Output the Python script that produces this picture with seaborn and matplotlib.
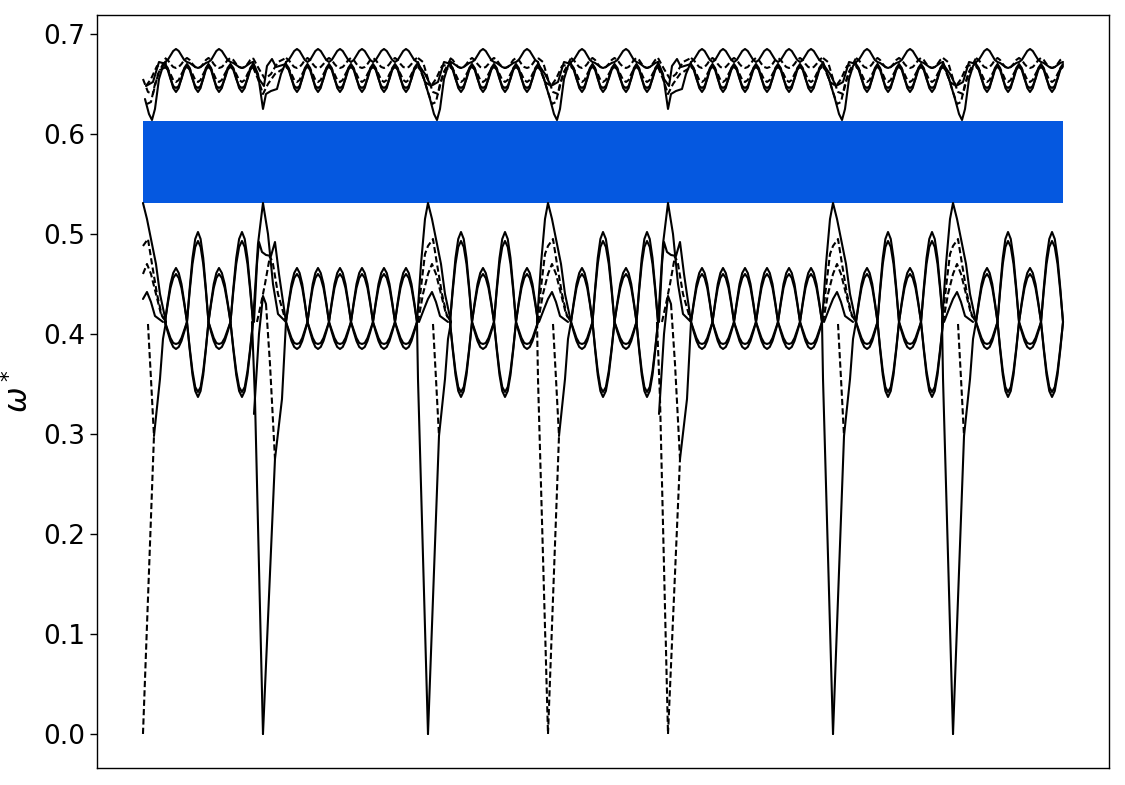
import matplotlib
matplotlib.use("Agg")
import matplotlib.pyplot as plt
import pandas as pd
import seaborn as sns

# path coordinate along the wave-vector path (no tick labels in the figure)
VERTEX_K = [0, 120, 285, 405, 525, 690, 810, 920]
VERTEX_KIND = ['A', 'B', 'A', 'A', 'B', 'A', 'A']
VERTEX_V_STYLE = ['dashed', 'solid', 'solid', 'dashed', 'dashed', 'solid', 'solid']

# band gap
GAP_LOW = 0.531
GAP_HIGH = 0.613

# centres of the lens shaped crossings between the vertices (s = small, b = big)
EYE_CENTERS = [
    [33, 55, 76, 99],
    [154, 175, 197, 219, 241, 263],
    [318, 340, 362, 384],
    [439, 460, 483, 504],
    [559, 580, 602, 624, 646, 668],
    [724, 745, 767, 789],
    [844, 865, 887, 909],
]
EYE_KINDS = ['sbsb', 'ssssss', 'bsbs', 'sbsb', 'ssssss', 'sbsb', 'sbsb']

# read heights from crossing (first) to lens centre (last)
LOW_TOP = {'s': [0.412, 0.432, 0.450, 0.461, 0.466], 'b': [0.412, 0.446, 0.476, 0.495, 0.502]}
LOW_TOP2 = {'s': [0.412, 0.430, 0.446, 0.456, 0.460], 'b': [0.412, 0.443, 0.470, 0.487, 0.493]}
LOW_BOT = {'s': [0.412, 0.402, 0.393, 0.387, 0.385], 'b': [0.412, 0.384, 0.359, 0.343, 0.337]}
LOW_BOT2 = {'s': [0.412, 0.404, 0.396, 0.391, 0.390], 'b': [0.412, 0.386, 0.363, 0.347, 0.342]}
UP_TOP = {'s': [0.672, 0.674, 0.6785, 0.683, 0.685], 'b': [0.672, 0.671, 0.669, 0.667, 0.666]}
UP_MID = {'s': [0.670, 0.666, 0.656, 0.646, 0.642], 'b': [0.670, 0.666, 0.656, 0.646, 0.642]}
UP_MID2 = {'s': [0.668, 0.664, 0.655, 0.648, 0.646], 'b': [0.668, 0.664, 0.655, 0.648, 0.646]}
UP_DASH = {'s': [0.667, 0.665, 0.660, 0.654, 0.652], 'b': [0.667, 0.665, 0.660, 0.654, 0.652]}
UP_DASH2 = {'s': [0.676, 0.674, 0.670, 0.667, 0.666], 'b': [0.676, 0.674, 0.670, 0.667, 0.666]}

BAND_CURVES = [
    (LOW_TOP, 'solid'), (LOW_TOP2, 'solid'), (LOW_BOT, 'solid'), (LOW_BOT2, 'solid'),
    (UP_TOP, 'solid'), (UP_MID, 'solid'), (UP_MID2, 'solid'),
    (UP_DASH, 'dashed'), (UP_DASH2, 'dashed'),
]

# curves around the high-symmetry points: offsets from the vertex, heights, style ('v' = vertex style)
LOWER_A = [
    ([-11, -7, -3, 0, 4, 9, 13, 17, 23], [0.412, 0.47, 0.515, 0.531, 0.515, 0.49, 0.47, 0.44, 0.412], 'solid'),
    ([-11, -6, -3, 0, 5, 9, 14, 19, 23], [0.412, 0.455, 0.48, 0.488, 0.495, 0.47, 0.44, 0.418, 0.412], 'dashed'),
    ([-10, -5, 0, 4, 8, 13, 18, 23], [0.412, 0.44, 0.46, 0.47, 0.46, 0.44, 0.42, 0.412], 'dashed'),
    ([-9, -4, 0, 4, 8, 12, 20], [0.412, 0.425, 0.435, 0.442, 0.432, 0.418, 0.412], 'solid'),
    ([-11, -10, 0], [0.412, 0.355, 0.0], 'v'),
    ([0, 11], [0.0, 0.298], 'v'),
    ([11, 17, 20, 23], [0.298, 0.355, 0.395, 0.412], 'solid'),
    ([5, 8, 11], [0.41, 0.355, 0.298], 'dashed'),
]
LOWER_B = [
    ([-10, -5, 0, 5, 10, 15, 23], [0.412, 0.49, 0.531, 0.50, 0.45, 0.42, 0.412], 'solid'),
    ([-9, -6, -4, -1, 3, 8, 12, 16, 23], [0.412, 0.47, 0.492, 0.482, 0.479, 0.478, 0.492, 0.46, 0.412], 'solid'),
    ([-6, -2, 2, 7, 10, 15, 23], [0.412, 0.43, 0.45, 0.478, 0.47, 0.44, 0.412], 'dashed'),
    ([-9, -4, 0, 3], [0.32, 0.40, 0.438, 0.43], 'solid'),
    ([3, 7, 12], [0.43, 0.37, 0.275], 'dashed'),
    ([-11, -8, 0], [0.412, 0.335, 0.0], 'v'),
    ([0, 12], [0.0, 0.275], 'v'),
    ([12, 19, 23], [0.275, 0.335, 0.412], 'solid'),
]
UPPER_A = [
    ([-10, -4, 2, 6, 9, 12, 16, 20, 23], [0.672, 0.655, 0.635, 0.620, 0.614, 0.625, 0.655, 0.668, 0.672], 'solid'),
    ([-10, -6, -1, 4, 8, 12, 17, 23], [0.667, 0.662, 0.645, 0.630, 0.632, 0.650, 0.664, 0.667], 'dashed'),
    ([-10, -5, 0, 5, 10, 15, 23], [0.676, 0.672, 0.655, 0.642, 0.640, 0.660, 0.676], 'dashed'),
    ([-10, -3, 3, 8, 14, 23], [0.670, 0.652, 0.648, 0.655, 0.668, 0.670], 'dashed'),
    ([-10, -3, 3, 10, 16, 23], [0.670, 0.660, 0.648, 0.652, 0.672, 0.670], 'solid'),
]
UPPER_B = [
    ([-10, -5, 0, 3, 8, 14, 18, 23], [0.672, 0.660, 0.625, 0.640, 0.643, 0.645, 0.660, 0.672], 'solid'),
    ([-10, -4, 1, 4, 9, 13, 23], [0.670, 0.655, 0.648, 0.668, 0.675, 0.667, 0.670], 'solid'),
    ([-10, -5, 0, 5, 12, 23], [0.667, 0.655, 0.640, 0.650, 0.660, 0.667], 'dashed'),
    ([-10, -4, 2, 8, 15, 23], [0.676, 0.665, 0.655, 0.660, 0.672, 0.676], 'dashed'),
]
TEMPLATES = {'A': LOWER_A + UPPER_A, 'B': LOWER_B + UPPER_B}

Y_TICKS = [0.0, 0.1, 0.2, 0.3, 0.4, 0.5, 0.6, 0.7]


def lens_run(centres, kinds, profile):
    ks, ws = [], []
    for i, (c, kd) in enumerate(zip(centres, kinds)):
        left = c - 11 if i == 0 else (centres[i - 1] + c) / 2
        right = c + 11 if i == len(centres) - 1 else (c + centres[i + 1]) / 2
        prof = profile[kd]
        for j in range(4):
            ks.append(left + (c - left) * j / 4)
            ws.append(prof[j])
        ks.append(c)
        ws.append(prof[4])
        for j in range(3, 0, -1):
            ks.append(c + (right - c) * (4 - j) / 4)
            ws.append(prof[j])
    ks.append(right)
    ws.append(profile[kinds[-1]][0])
    return ks, ws


rows = []
piece = 0
for centres, kinds in zip(EYE_CENTERS, EYE_KINDS):
    for profile, style in BAND_CURVES:
        ks, ws = lens_run(centres, kinds, profile)
        rows += [dict(k=a, w=b, piece=piece, style=style) for a, b in zip(ks, ws)]
        piece += 1

for v, kind, vstyle in zip(VERTEX_K, VERTEX_KIND, VERTEX_V_STYLE):
    for offs, ws, style in TEMPLATES[kind]:
        pts = [(v + o, w) for o, w in zip(offs, ws) if v + o >= 0]
        if len(pts) < 2:
            continue
        st = vstyle if style == 'v' else style
        rows += [dict(k=a, w=b, piece=piece, style=st) for a, b in pts]
        piece += 1

df = pd.DataFrame(rows)

sns.set_style("white")
plt.rcParams['font.family'] = ['DejaVu Sans']
fig = plt.figure(figsize=(11.25, 7.85), dpi=100)
ax = fig.add_axes([0.0862, 0.0217, 0.8996, 0.9592])

ax.fill_between([VERTEX_K[0], VERTEX_K[-1]], GAP_LOW, GAP_HIGH, color='#0558e0', lw=0, zorder=1)

sns.lineplot(data=df, x='k', y='w', units='piece', estimator=None, sort=False,
             style='style', dashes={'solid': '', 'dashed': (3, 1.5)},
             color='black', linewidth=1.5, legend=False, ax=ax, zorder=3)

ax.set_xlim(-46, 966)
ax.set_ylim(-0.034, 0.719)
ax.set_xticks([])
ax.set_yticks(Y_TICKS)
ax.set_yticklabels([f'{t:.1f}' for t in Y_TICKS])
ax.tick_params(axis='y', labelsize=19, left=True, length=5, width=1,
               color='black', labelcolor='black')
ax.set_xlabel('')
ax.set_ylabel(r'$\omega^*$', fontsize=22, labelpad=6, color='black')
for s in ax.spines.values():
    s.set_color('black')
    s.set_linewidth(1.0)

fig.savefig('out.png', dpi=100)
